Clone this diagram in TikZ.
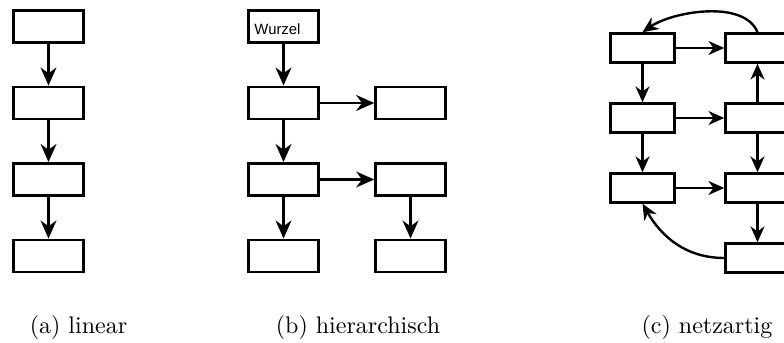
\documentclass[tikz,border=0pt]{standalone}
\usepackage{fontspec}
\newfontfamily\boxfont{Liberation Sans}
\usetikzlibrary{arrows.meta}
\begin{document}
\begin{tikzpicture}[x=0.41667pt,y=0.41667pt,
  blk/.style={draw, line width=1.05pt, minimum width=29.17pt, minimum height=13.5pt, inner sep=0pt},
  blksmall/.style={draw, line width=1pt, minimum width=26.67pt, minimum height=12.1pt, inner sep=0pt},
  link/.style={line width=1.05pt, -{Stealth[length=7.5pt, width=6.6pt, inset=2.4pt]}},
  linksmall/.style={line width=1pt, -{Stealth[length=6.6pt, width=5.8pt, inset=2.1pt]}},
  caption/.style={anchor=base, inner sep=0pt}]
\useasboundingbox (0,0) rectangle (784,-343);
\clip (0,0) rectangle (784,-343);

% (a) linear chain
\node[blk] (a1) at (48.5,-26.5) {};
\node[blk] (a2) at (48.5,-103) {};
\node[blk] (a3) at (48.5,-179.5) {};
\node[blk] (a4) at (48.5,-256) {};
\draw[link] (a1) -- (a2);
\draw[link] (a2) -- (a3);
\draw[link] (a3) -- (a4);
\node[caption] (capa) at (78.5,-334) {(a) linear};

% (b) hierarchy with a root
\node[blk] (b1) at (283.5,-26.5) {};
\node[anchor=base west, inner sep=0pt, font=\boxfont\fontsize{6.2}{7}\selectfont] (broot) at (254,-35) {Wurzel};
\node[blk] (b2) at (283.5,-103) {};
\node[blk] (b3) at (283.5,-179.5) {};
\node[blk] (b4) at (283.5,-256) {};
\node[blk] (b2r) at (410.5,-103) {};
\node[blk] (b3r) at (410.5,-179.5) {};
\node[blk] (b4r) at (410.5,-256) {};
\draw[link] (b1) -- (b2);
\draw[link] (b2) -- (b3);
\draw[link] (b3) -- (b4);
\draw[link] (b2) -- (b2r);
\draw[link] (b3) -- (b3r);
\draw[link] (b3r) -- (b4r);
\node[caption] (capb) at (358,-334) {(b) hierarchisch};

% (c) network
\node[blksmall] (cl1) at (642.5,-48) {};
\node[blksmall] (cl2) at (642.5,-118) {};
\node[blksmall] (cl3) at (642.5,-188) {};
\node[blksmall] (cr1) at (757.5,-48) {};
\node[blksmall] (cr2) at (757.5,-118) {};
\node[blksmall] (cr3) at (757.5,-188) {};
\node[blksmall] (cr4) at (757.5,-258) {};
\draw[linksmall] (cl1) -- (cr1);
\draw[linksmall] (cl2) -- (cr2);
\draw[linksmall] (cl3) -- (cr3);
\draw[linksmall] (cl1) -- (cl2);
\draw[linksmall] (cl2) -- (cl3);
\draw[linksmall] (cr2) -- (cr1);
\draw[linksmall] (cr2) -- (cr3);
\draw[linksmall] (cr3) -- (cr4);
\draw[linksmall] (cr1.north) to[out=112, in=35, looseness=0.8] (cl1.north);
\draw[linksmall] (cr4.west) to[out=180, in=-60] (cl3.south);
\node[caption] (capc) at (707,-334) {(c) netzartig};
\end{tikzpicture}
\end{document}
